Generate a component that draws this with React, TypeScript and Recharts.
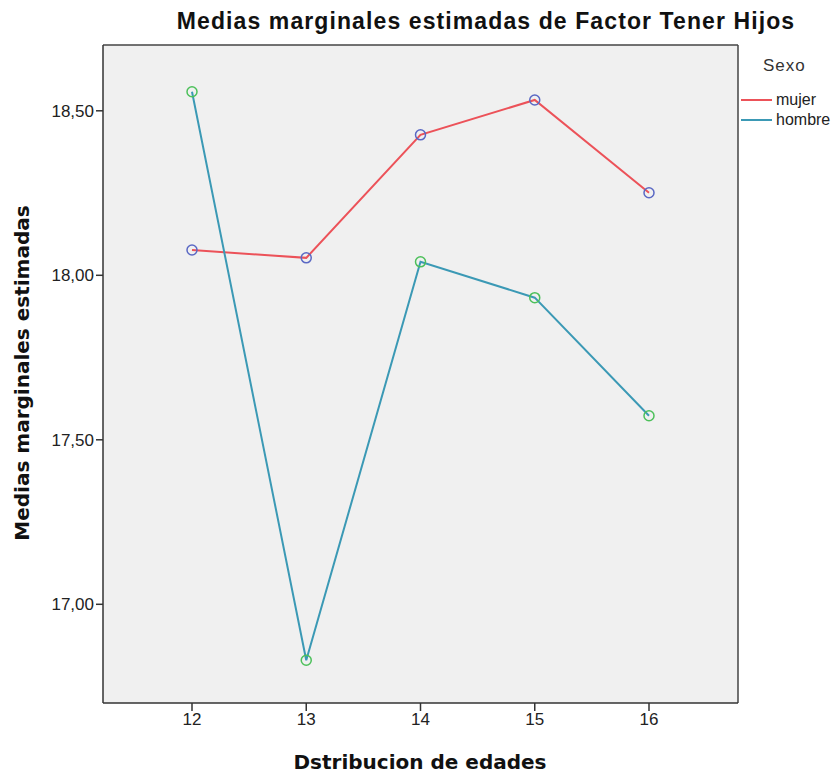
import React from 'react'
import { LineChart, Line, XAxis, YAxis, CartesianGrid } from 'recharts'

const ages = ['12', '13', '14', '15', '16']
const mujer = [18.077, 18.053, 18.427, 18.533, 18.251]
const hombre = [18.558, 16.83, 18.041, 17.932, 17.573]
const yTicks = [17, 17.5, 18, 18.5]

const data = ages.map((age, i) => ({ age, mujer: mujer[i], hombre: hombre[i] }))

const fmt = (v: number) => v.toFixed(2).replace('.', ',')

const series = [
    { key: 'mujer', line: '#ec5259', dot: '#5a68c4' },
    { key: 'hombre', line: '#3b99b5', dot: '#4cc05a' },
]

const font = 'Liberation Sans, Arial, sans-serif'

const SexoLegend = () => (
    <div style={{ position: 'absolute', left: 741, top: 56, width: 94, fontFamily: font, color: '#222' }}>
        <div style={{ fontSize: 17, color: '#333', marginLeft: 22, marginBottom: 14, letterSpacing: 1 }}>Sexo</div>
        {series.map(s => (
            <div key={s.key} style={{ display: 'flex', alignItems: 'center', height: 20, fontSize: 16, whiteSpace: 'nowrap' }}>
                <span style={{ display: 'inline-block', width: 31, height: 2, background: s.line, marginRight: 4, flexShrink: 0 }} />
                {s.key}
            </div>
        ))}
    </div>
)

export default function App() {
    return (
        <div style={{ position: 'absolute', left: 0, top: 0, width: 835, height: 774, background: '#fff' }}>
            <div style={{ position: 'absolute', left: 486, top: 8, transform: 'translateX(-50%)', whiteSpace: 'nowrap', fontFamily: font, fontWeight: 'bold', fontSize: 23, letterSpacing: 1.1, color: '#111' }}>
                Medias marginales estimadas de Factor Tener Hijos
            </div>
            <div style={{ position: 'absolute', left: 22, top: 373, transform: 'translate(-50%, -50%) rotate(-90deg)', whiteSpace: 'nowrap', fontFamily: 'DejaVu Sans, sans-serif', fontWeight: 'bold', fontSize: 20, color: '#111' }}>
                Medias marginales estimadas
            </div>
            <div style={{ position: 'absolute', left: 420, top: 762, transform: 'translate(-50%, -50%)', whiteSpace: 'nowrap', fontFamily: 'DejaVu Sans, sans-serif', fontWeight: 'bold', fontSize: 20, color: '#111' }}>
                Dstribucion de edades
            </div>
            <SexoLegend />
            <LineChart width={835} height={774} data={data} margin={{ top: 45, right: 97, left: 43, bottom: 41 }}>
                <CartesianGrid
                    fill="#f0f0f0"
                    stroke="#444"
                    strokeWidth={1.5}
                    horizontalCoordinatesGenerator={({ offset }: any) => [offset.top]}
                    verticalCoordinatesGenerator={({ offset }: any) => [offset.left + offset.width]}
                />
                <XAxis
                    dataKey="age"
                    padding={{ left: 89, right: 89 }}
                    height={30}
                    stroke="#333"
                    strokeWidth={1.5}
                    tickSize={8}
                    tick={{ fill: '#222', fontSize: 17, fontFamily: font }}
                />
                <YAxis
                    domain={[16.7, 18.7]}
                    ticks={yTicks}
                    tickFormatter={fmt}
                    width={60}
                    stroke="#333"
                    strokeWidth={1.5}
                    tickSize={7}
                    tick={{ fill: '#222', fontSize: 17, fontFamily: font }}
                />
                {series.map(s => (
                    <Line
                        key={s.key}
                        dataKey={s.key}
                        stroke={s.line}
                        strokeWidth={2}
                        dot={{ r: 5, stroke: s.dot, strokeWidth: 1.5, fill: 'none' }}
                        activeDot={false}
                        isAnimationActive={false}
                    />
                ))}
            </LineChart>
        </div>
    )
}
